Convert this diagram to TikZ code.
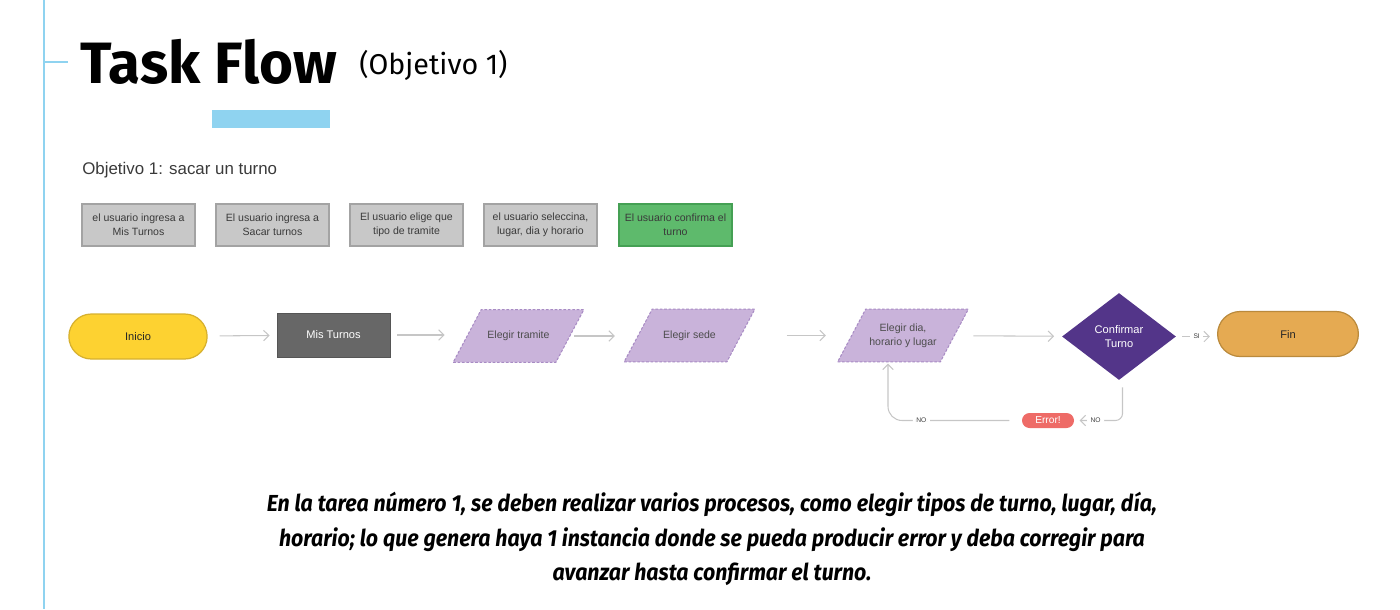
\documentclass[tikz,border=0pt]{standalone}
\usepackage{fontspec}
\setmainfont{Liberation Sans}
\newfontfamily\titlefont{Fira Sans}
\newfontfamily\notefont[FakeStretch=0.92]{Fira Sans}
\newfontfamily\uifont{Liberation Sans}
\usetikzlibrary{shapes.geometric,shapes.misc,arrows.meta}
\pgfdeclarelayer{bg}
\pgfsetlayers{bg,main}
\definecolor{lineblue}{HTML}{8FD3F0}
\definecolor{boxgray}{HTML}{C8C8C8}
\definecolor{boxgrayb}{HTML}{A3A3A3}
\definecolor{okgreen}{HTML}{5EBA6C}
\definecolor{okgreenb}{HTML}{45A054}
\definecolor{inicio}{HTML}{FDD231}
\definecolor{iniciob}{HTML}{D6B02E}
\definecolor{fin}{HTML}{E5AA52}
\definecolor{finb}{HTML}{BA8A3C}
\definecolor{mis}{HTML}{676767}
\definecolor{misb}{HTML}{555555}
\definecolor{lila}{HTML}{C9B3DA}
\definecolor{lilab}{HTML}{A88BC4}
\definecolor{purp}{HTML}{533589}
\definecolor{errred}{HTML}{EE6B67}
\definecolor{arrowgray}{HTML}{C6C6C6}
\definecolor{txtgray}{HTML}{3A3A3A}
\tikzset{
  x=0.02cm, y=-0.02cm,
  stepnote/.style={draw=boxgrayb, line width=0.7pt, fill=boxgray, minimum width=2.26cm, minimum height=0.84cm,
    align=center, font=\uifont\fontsize{6}{8}\selectfont, text=txtgray, inner sep=1pt},
  pill/.style={rounded rectangle, line width=0.7pt, minimum width=3.0cm, minimum height=0.9cm,
    font=\uifont\fontsize{6.3}{7}\selectfont, text=black!85},
  procbox/.style={draw=misb, fill=mis, line width=0.5pt, minimum width=2.26cm, minimum height=0.88cm,
    font=\uifont\fontsize{6.3}{7}\selectfont, text=white},
  datab/.style={rectangle, minimum width=2.04cm, minimum height=1.04cm, inner sep=0pt,
    align=center, font=\uifont\fontsize{6}{8.2}\selectfont, text=black!70},
  parashape/.style={draw=lilab, fill=lila, dash pattern=on 1.5pt off 1pt, line width=0.6pt, line join=round},
  decis/.style={diamond, fill=purp, minimum width=2.28cm, minimum height=1.74cm, inner sep=0pt,
    align=center, font=\uifont\fontsize{6.3}{8.2}\selectfont, text=white},
  flow/.style={draw=arrowgray, line width=0.6pt, -{Straight Barb[length=3pt,width=6pt]}},
  lbl/.style={fill=white, font=\uifont\fontsize{3.8}{4}\selectfont, text=black!75, inner sep=2pt},
}
\newcommand\drawpara[1]{%
  \begin{pgfonlayer}{bg}
  \filldraw[parashape] ([xshift=-0.28cm]#1.south west) -- ([xshift=-0.28cm]#1.south east)
    -- ([xshift=0.28cm]#1.north east) -- ([xshift=0.28cm]#1.north west) -- cycle;
  \end{pgfonlayer}}
\begin{document}
\begin{tikzpicture}
\useasboundingbox (0,0) rectangle (1400,609);
% frame lines
\draw[lineblue, line width=1.7pt] (44,0) -- (44,609);
\draw[lineblue, line width=1.7pt] (44,62) -- (68,62);
% title
\node[anchor=base west, inner sep=0pt, font=\titlefont\bfseries\fontsize{33.2}{40}\selectfont] (title) at (80,83) {Task Flow};
\node[anchor=base west, inner sep=0pt, font=\titlefont\fontsize{16.3}{18}\selectfont] (sub) at (359,74) {(Objetivo 1)};
\fill[lineblue] (212,110) rectangle (330,128);
\node[anchor=base west, inner sep=0pt, font=\uifont\fontsize{9.6}{11}\selectfont, text=txtgray] (obj) at (82,174) {Objetivo 1: sacar un turno};
% step notes
\node[stepnote] (s1) at (138.5,225) {el usuario ingresa a\\Mis Turnos};
\node[stepnote] (s2) at (272.5,225) {El usuario ingresa a\\Sacar turnos};
\node[stepnote] (s3) at (406.5,225) {El usuario elige que\\tipo de tramite};
\node[stepnote] (s4) at (540.5,225) {el usuario seleccina,\\lugar, dia y horario};
\node[stepnote, fill=okgreen, draw=okgreenb] (s5) at (675.5,225) {El usuario confirma el\\turno};
% flow
\node[pill, draw=iniciob, fill=inicio] (ini) at (138,336.5) {Inicio};
\node[procbox] (mt) at (333.5,335) {Mis Turnos};
\node[datab] (tr) at (518.5,336) {Elegir tramite};
\node[datab] (se) at (689.5,335.5) {Elegir sede};
\node[datab] (dia) at (903,335.5) {Elegir dia,\\horario y lugar};
\drawpara{tr}
\drawpara{se}
\drawpara{dia}
\node[decis] (dm) at (1119,336.5) {Confirmar\\Turno};
\node[pill, draw=finb, fill=fin, minimum width=3.05cm] (fin) at (1288,334) {Fin};
\node[rounded rectangle, fill=errred, minimum width=1.04cm, minimum height=0.3cm, inner sep=0pt,
  font=\uifont\fontsize{5.8}{6}\selectfont, text=white] (err) at (1048,420.5) {Error!};
\coordinate (bend) at (888,420.5);
\draw[flow, shorten <=6.8pt, shorten >=4pt] (ini) -- (mt);
\draw[flow, shorten <=4pt, shorten >=12.8pt] (mt) -- (tr.west |- mt.east);
\draw[flow, shorten <=2.3pt, shorten >=13.3pt] (tr.east) -- (se.west |- tr.east);
\draw[flow, shorten <=26pt, shorten >=14.7pt] (se) -- (dia);
\draw[flow, shorten <=10.8pt, shorten >=4.5pt] (dia) -- (dm);
\draw[flow, shorten <=3.4pt, shorten >=4pt] (dm.east) -- node[lbl]{SI} (fin.west |- dm.east);
\draw[flow, rounded corners=4pt, shorten <=4pt, shorten >=3pt] ([xshift=2pt]dm.south) |- node[lbl, pos=0.78]{NO} (err.east);
\draw[flow, rounded corners=8pt, shorten <=7pt, shorten >=1pt] (err.west) -- node[lbl, pos=0.75]{NO} (bend) -- (bend |- dia.south);
% note
\node[align=center, font=\notefont\bfseries\itshape\fontsize{13.2}{19.8}\selectfont] (note) at (712,539)
 {En la tarea número 1, se deben realizar varios procesos, como elegir tipos de turno, lugar, día,\\
  horario; lo que genera haya 1 instancia donde se pueda producir error y deba corregir para\\
  avanzar hasta confirmar el turno.};
\end{tikzpicture}
\end{document}
